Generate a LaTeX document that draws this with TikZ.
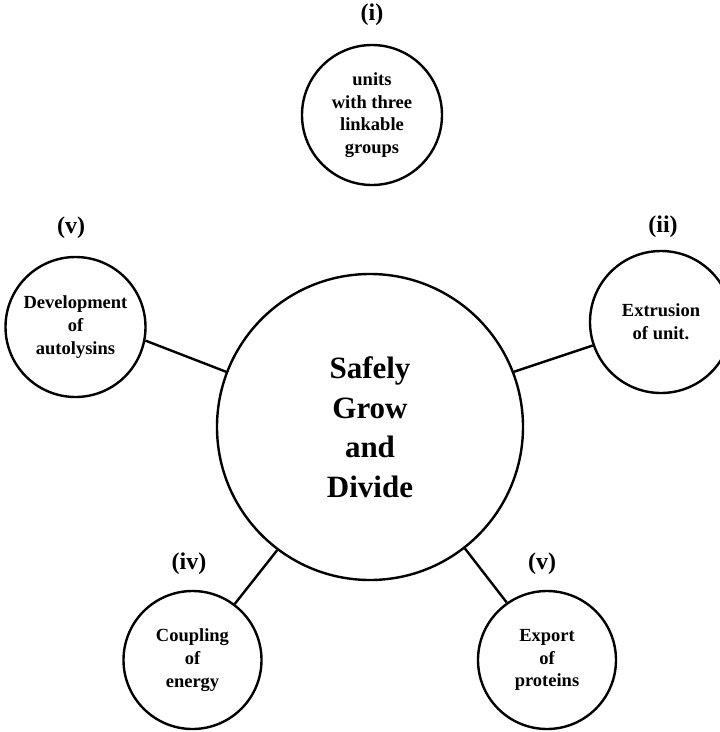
\documentclass[tikz,border=0pt]{standalone}
\usepackage{fontspec}
\setmainfont{Liberation Serif}
\begin{document}
\begin{tikzpicture}[x=1pt,y=-1pt,
  bigc/.style={circle,draw,line width=2.4pt,minimum size=306pt,inner sep=0pt,align=center,
    font=\fontsize{31}{39.5}\selectfont\bfseries},
  smallc/.style={circle,draw,line width=2.4pt,inner sep=0pt,align=center,
    font=\fontsize{18.5}{22.7}\selectfont\bfseries},
  lbl/.style={inner sep=0pt,font=\fontsize{24}{28}\selectfont\bfseries},
  conn/.style={line width=2.4pt}]
\useasboundingbox (0,0) rectangle (720,732);
\node[bigc] (big) at (370,427) {Safely\\Grow\\and\\Divide};
\node[smallc,minimum size=140pt] (top) at (372,115) {units\\with three\\linkable\\groups};
\node[smallc,minimum size=140pt] (left) at (75.5,327) {Development\\of\\autolysins};
\node[smallc,minimum size=142pt] (right) at (661,322) {Extrusion\\of unit.};
\node[smallc,minimum size=138pt] (bl) at (192.5,660) {Coupling\\of\\energy};
\node[smallc,minimum size=138pt] (br) at (547,660) {Export\\of\\proteins};
\node[lbl] (ltop) at (372,15) {(i)};
\node[lbl] (lleft) at (71,228) {(v)};
\node[lbl] (lright) at (663,227) {(ii)};
\node[lbl] (lbl1) at (189,564) {(iv)};
\node[lbl] (lbr) at (542,564) {(v)};
\draw[conn] (big.159) -- (left.349);
\draw[conn] (big.21) -- (right.199);
\draw[conn] (big.233) -- (bl.53);
\draw[conn] (big.308) -- (br.125);
\end{tikzpicture}
\end{document}
